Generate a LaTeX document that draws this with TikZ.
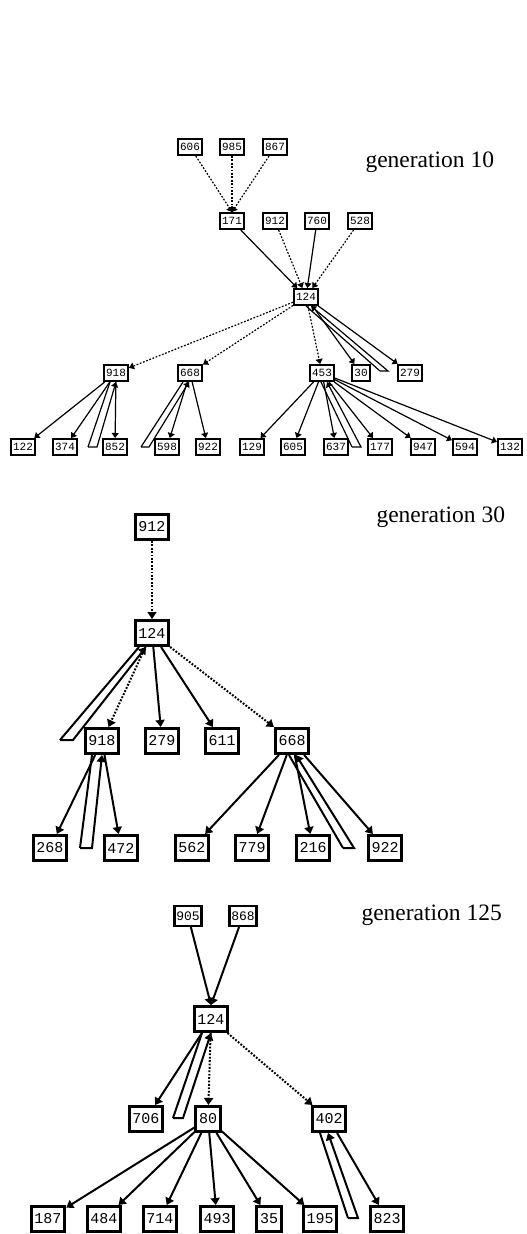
\documentclass[tikz,border=0pt]{standalone}
\usepackage{fontspec}
\setmainfont{Liberation Serif}
\newfontfamily\boxfont{Liberation Mono}
\usetikzlibrary{arrows.meta}

\tikzset{
  sbox/.style={draw, line width=1.8pt, font=\boxfont\fontsize{11}{11}\selectfont, inner xsep=2.2pt, inner ysep=0pt, minimum height=16.2pt},
  mbox/.style={draw, line width=2.4pt, font=\boxfont\fontsize{13}{13}\selectfont, inner xsep=1.8pt, inner ysep=0pt, minimum height=19.6pt},
  lbox/.style={draw, line width=3pt, font=\boxfont\fontsize{15}{15}\selectfont, inner xsep=3.2pt, inner ysep=0pt, minimum height=25pt},
  sarr/.style={line width=1.2pt, -{Triangle[width=7pt,length=5pt]}},
  larr/.style={line width=2pt, -{Triangle[width=9pt,length=7pt]}},
  sline/.style={line width=1.2pt},
  lline/.style={line width=2pt},
  dots/.style={dash pattern=on 1.8pt off 1.6pt},
  genlabel/.style={anchor=base west, font=\fontsize{23.5}{28}\selectfont}
}

\begin{document}
\begin{tikzpicture}[x=1pt,y=-1pt]
\useasboundingbox (0,0) rectangle (527,1234);

%%%%%% generation 10
\node[genlabel] (g10) at (362,167) {generation 10};

\node[sbox] (a606) at (190,147) {606}; \node[sbox] (a985) at (232,147) {985}; \node[sbox] (a867) at (275,147) {867};
\node[sbox] (a171) at (232,221) {171}; \node[sbox] (a912) at (275,221) {912}; \node[sbox] (a760) at (317,221) {760}; \node[sbox] (a528) at (360,221) {528};
\node[sbox] (a124) at (306,297) {124};
\node[sbox] (a918) at (116,373) {918}; \node[sbox] (a668) at (190,373) {668}; \node[sbox] (a453) at (322,373) {453}; \node[sbox] (a30) at (361,373) {30}; \node[sbox] (a279) at (410,373) {279};
\node[sbox] (a122) at (23,447) {122}; \node[sbox] (a374) at (65,447) {374}; \node[sbox] (a852) at (115,447) {852}; \node[sbox] (a598) at (167,447) {598};
\node[sbox] (a922) at (208,447) {922}; \node[sbox] (a129) at (252,447) {129}; \node[sbox] (a605) at (293,447) {605}; \node[sbox] (a637) at (336,447) {637};
\node[sbox] (a177) at (380,447) {177}; \node[sbox] (a947) at (423,447) {947}; \node[sbox] (a594) at (465,447) {594}; \node[sbox] (a132) at (510,447) {132};

\draw[sarr,dots] (a606) -- (a171.north); \draw[sarr,dots] (a985) -- (a171.north); \draw[sarr,dots] (a867) -- (a171.north);
\draw[sarr] (a171) -- (a124); \draw[sarr,dots] (a912) -- (a124); \draw[sarr] (a760) -- (a124); \draw[sarr,dots] (a528) -- (a124);
\draw[sarr,dots] (a124) -- (a918); \draw[sarr,dots] (a124) -- (a668); \draw[sarr,dots] (a124) -- (a453); \draw[sarr] (a124) -- (a30); \draw[sarr] (a124) -- (a279);
\draw[sarr] (a918) -- (a122); \draw[sarr] (a918) -- (a374); \draw[sarr] (a918) -- (a852);
\draw[sarr] (a668) -- (a598); \draw[sarr] (a668) -- (a922);
\draw[sarr] (a453) -- (a129); \draw[sarr] (a453) -- (a605); \draw[sarr] (a453) -- (a637); \draw[sarr] (a453) -- (a177);
\draw[sarr] (a453) -- (a947); \draw[sarr] (a453) -- (a594); \draw[sarr] (a453) -- (a132);

% hollow ones
\coordinate (wa1) at (380,371); \coordinate (wa2) at (388,371);
\draw[sarr] (wa1) -- (wa2) -- ([xshift=5pt]a124.south); \draw[sline] (wa1) -- (a124.south);
\coordinate (wb1) at (88,447); \coordinate (wb2) at (97,447);
\draw[sarr] (wb1) -- (wb2) -- (a918.south); \draw[sline] (wb1) -- ([xshift=-6pt]a918.south);
\coordinate (wc1) at (141,447); \coordinate (wc2) at (149,447);
\draw[sarr] (wc1) -- (wc2) -- ([xshift=-1pt]a668.south); \draw[sline] (wc1) -- ([xshift=-7pt]a668.south);
\coordinate (wd1) at (352,447); \coordinate (wd2) at (361,447);
\draw[sarr] (wd1) -- (wd2) -- ([xshift=5pt]a453.south); \draw[sline] (wd1) -- ([xshift=-1pt]a453.south);


%%%%%% generation 30
\node[genlabel] (g30) at (373,522) {generation 30};

\node[lbox] (b912) at (152,527) {912};
\node[lbox] (b124) at (152,633) {124};
\node[lbox] (b918) at (102,741) {918}; \node[lbox] (b279) at (162,741) {279}; \node[lbox] (b611) at (222,741) {611}; \node[lbox] (b668) at (292,741) {668};
\node[lbox] (b268) at (50,848) {268}; \node[lbox] (b472) at (121,848) {472}; \node[lbox] (b562) at (192,848) {562};
\node[lbox] (b779) at (252,848) {779}; \node[lbox] (b216) at (313,848) {216}; \node[lbox] (b922) at (385,848) {922};

\draw[larr,dots] (b912) -- (b124);
\draw[larr,dots] (b124) -- (b918); \draw[larr] (b124) -- (b279); \draw[larr] (b124) -- (b611); \draw[larr,dots] (b124) -- (b668);
\draw[larr] (b918) -- (b268); \draw[larr] (b918) -- (b472);
\draw[larr] (b668) -- (b562); \draw[larr] (b668) -- (b779); \draw[larr] (b668) -- (b216); \draw[larr] (b668) -- (b922);

% hollow ones
\coordinate (we1) at (60,740); \coordinate (we2) at (73,740);
\draw[larr] (we1) -- (we2) -- ([xshift=-6pt]b124.south); \draw[lline] (we1) -- ([xshift=-13pt]b124.south);
\coordinate (wf1) at (80,848); \coordinate (wf2) at (92,848);
\draw[larr] (wf1) -- (wf2) -- (b918.south); \draw[lline] (wf1) -- ([xshift=-10pt]b918.south);
\coordinate (wg1) at (343,848); \coordinate (wg2) at (354,848);
\draw[larr] (wg1) -- (wg2) -- ([xshift=4pt]b668.south); \draw[lline] (wg1) -- ([xshift=-3pt]b668.south);


%%%%%% generation 125
\node[genlabel] (g125) at (358,920) {generation 125};

\node[mbox] (c905) at (188,916) {905}; \node[mbox] (c868) at (243,916) {868};
\node[lbox] (c124) at (211,1019) {124};
\node[lbox] (c706) at (146,1119) {706}; \node[lbox] (c80) at (208,1119) {80}; \node[lbox] (c402) at (329,1119) {402};
\node[lbox] (c187) at (48,1219) {187}; \node[lbox] (c484) at (104,1219) {484}; \node[lbox] (c714) at (160,1219) {714}; \node[lbox] (c493) at (217,1219) {493};
\node[lbox] (c35) at (269,1219) {35}; \node[lbox] (c195) at (320,1219) {195}; \node[lbox] (c823) at (387,1219) {823};

\draw[larr] (c905) -- (c124.north); \draw[larr] (c868) -- (c124.north);
\draw[larr] (c124) -- (c706); \draw[larr,dots] (c124) -- (c80); \draw[larr,dots] (c124) -- (c402);
\draw[larr] (c80) -- (c187); \draw[larr] (c80) -- (c484); \draw[larr] (c80) -- (c714);
\draw[larr] (c80) -- (c493); \draw[larr] (c80) -- (c35); \draw[larr] (c80) -- (c195);
\draw[larr] (c402) -- (c823);

% hollow ones
\coordinate (wh1) at (173,1118); \coordinate (wh2) at (183,1118);
\draw[larr] (wh1) -- (wh2) -- (c124.south); \draw[lline] (wh1) -- ([xshift=-9pt]c124.south);
\coordinate (wi1) at (348,1218); \coordinate (wi2) at (358,1218);
\draw[larr] (wi1) -- (wi2) -- ([xshift=-1pt]c402.south); \draw[lline] (wi1) -- ([xshift=-9pt]c402.south);

\end{tikzpicture}
\end{document}
